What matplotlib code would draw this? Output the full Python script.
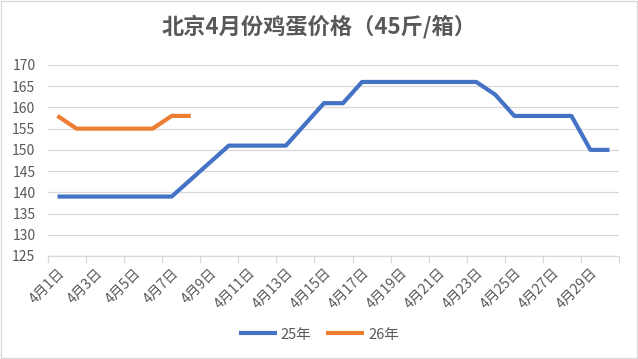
import matplotlib
matplotlib.use("Agg")
import matplotlib.pyplot as plt
from matplotlib.patches import Rectangle

plt.rcParams['font.family'] = ['Noto Sans CJK SC', 'DejaVu Sans']

# data
days = list(range(1, 31))
day_labels = [f"4月{d}日" for d in days]
price_25 = [139, 139, 139, 139, 139, 139, 139, 143, 147, 151,
            151, 151, 151, 156, 161, 161, 166, 166, 166, 166,
            166, 166, 166, 163, 158, 158, 158, 158, 150, 150]
price_26 = [158, 155, 155, 155, 155, 155, 158, 158]
yticks = list(range(125, 171, 5))

text_col = "#595959"
grid_col = "#d9d9d9"

fig = plt.figure(figsize=(6.38, 3.59), dpi=100)
ax = fig.add_axes([0.0752, 0.287, 0.895, 0.532])

ax.plot(days, price_25, color="#4472C4", lw=3, label="25年", solid_capstyle="butt")
ax.plot(days[:len(price_26)], price_26, color="#ED7D31", lw=3, label="26年",
        solid_capstyle="butt")

ax.set_xlim(0.5, 30.5)
ax.set_ylim(125, 170)
ax.set_yticks(yticks)
ax.yaxis.grid(True, color=grid_col, lw=0.9)
ax.set_axisbelow(True)

# labels every other day, tick marks between categories
ax.set_xticks(days[::2])
ax.set_xticklabels(day_labels[::2], rotation=45, ha="right", rotation_mode="anchor",
                   fontsize=10, color=text_col)
ax.tick_params(axis="x", which="major", length=0, pad=7)
ax.set_xticks([d - 0.5 for d in days[::2]] + [30.5], minor=True)
ax.tick_params(axis="x", which="minor", length=5, color=grid_col, width=0.9)
ax.tick_params(axis="y", length=0, labelsize=10, labelcolor=text_col, pad=9)

for s in ["top", "right", "left"]:
    ax.spines[s].set_visible(False)
ax.spines["bottom"].set_color(grid_col)
ax.spines["bottom"].set_linewidth(0.9)

fig.text(0.5, 0.925, "北京4月份鸡蛋价格（45斤/箱）", ha="center", va="center",
         fontsize=16, fontweight="bold", color=text_col)

fig.legend(loc="center", bbox_to_anchor=(0.5, 0.068), ncol=2, frameon=False,
           fontsize=10.5, labelcolor=text_col, handlelength=2.6, handletextpad=0.3,
           columnspacing=1.0)

fig.patches.append(Rectangle((0.002, 0.003), 0.996, 0.994, transform=fig.transFigure,
                             fill=False, edgecolor=grid_col, lw=1))

fig.savefig("out.png", dpi=100)
